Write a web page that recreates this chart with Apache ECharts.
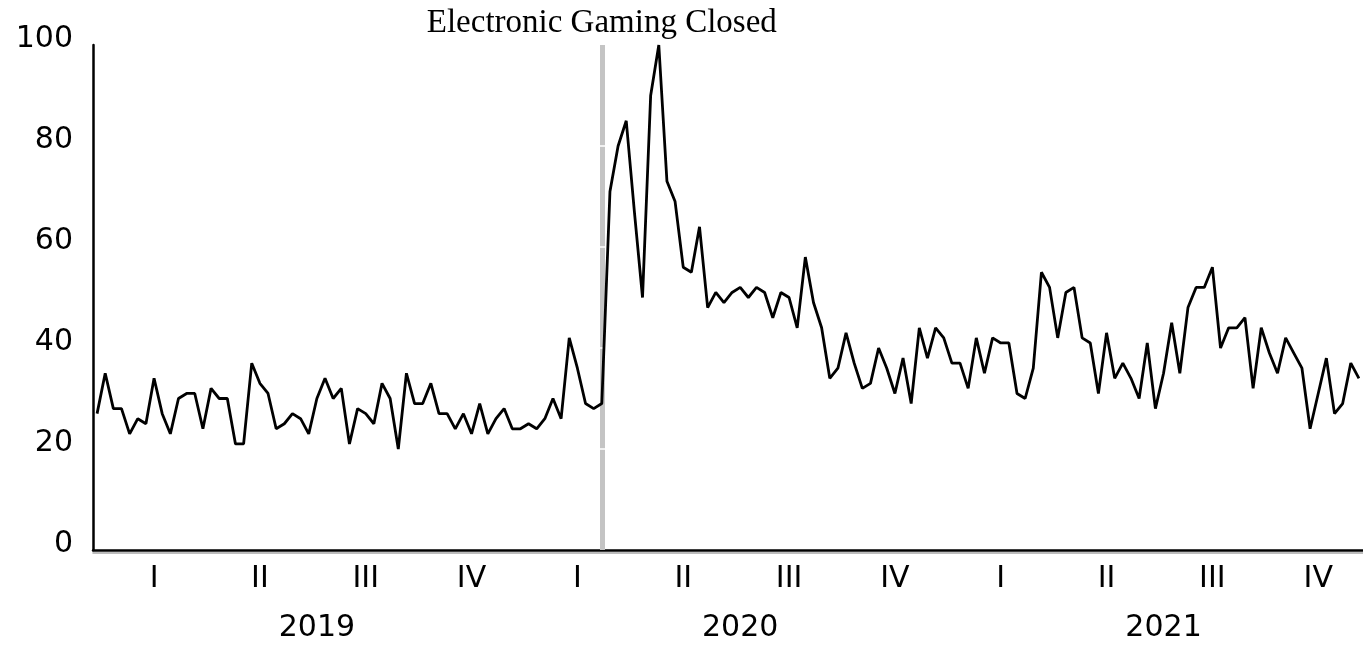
<!DOCTYPE html>
<html>
<head>
<meta charset="utf-8">
<script src="https://cdn.jsdelivr.net/npm/echarts@6/dist/echarts.min.js"></script>
<style>
  html, body { margin: 0; padding: 0; background: #fff; }
  #chart { width: 1363px; height: 646px; }
</style>
</head>
<body>
<div id="chart"></div>
<script>
// weekly index, 52 weeks per year
const years = ['2019', '2020', '2021'];
const quarters = ['I', 'II', 'III', 'IV'];
const weeks = [];
years.forEach(y => { for (let w = 1; w <= 52; w++) weeks.push(y + '-W' + w); });

const searches = [
  27, 35, 28, 28, 23, 26, 25, 34, 27, 23, 30, 31, 31, 24, 32, 30, 30, 21, 21, 37,
  33, 31, 24, 25, 27, 26, 23, 30, 34, 30, 32, 21, 28, 27, 25, 33, 30, 20, 35, 29,
  29, 33, 27, 27, 24, 27, 23, 29, 23, 26, 28, 24, 24, 25, 24, 26, 30, 26, 42, 36,
  29, 28, 29, 71, 80, 85, 67, 50, 90, 100, 73, 69, 56, 55, 64, 48, 51, 49, 51, 52,
  50, 52, 51, 46, 51, 50, 44, 58, 49, 44, 34, 36, 43, 37, 32, 33, 40, 36, 31, 38,
  29, 44, 38, 44, 42, 37, 37, 32, 42, 35, 42, 41, 41, 31, 30, 36, 55, 52, 42, 51,
  52, 42, 41, 31, 43, 34, 37, 34, 30, 41, 28, 35, 45, 35, 48, 52, 52, 56, 40, 44,
  44, 46, 32, 44, 39, 35, 42, 39, 36, 24, 31, 38, 27, 29, 37, 34
];

// week when electronic gaming closed
const closedWeek = 62;
const closedLabel = 'Electronic Gaming Closed';
const yTicks = [0, 20, 40, 60, 80, 100];

// grey marker, broken where the (white) gridlines would cross it
const markerSegments = [];
for (let k = 0; k < yTicks.length - 1; k++) {
  const last = k === yTicks.length - 2;
  const start = { coord: [weeks[closedWeek], yTicks[k] + (k === 0 ? 0 : 0.15)] };
  if (last) {
    start.label = {
      show: true, position: 'end', formatter: closedLabel, distance: 5,
      color: '#000', fontSize: 33, fontFamily: 'Liberation Serif'
    };
  }
  markerSegments.push([start, { coord: [weeks[closedWeek], yTicks[k + 1] - (last ? 0 : 0.15)] }]);
}

const labelFont = { color: '#000', fontSize: 30, fontFamily: 'DejaVu Sans' };

const myChart = echarts.init(document.getElementById('chart'));
const option = {
  animation: false,
  backgroundColor: '#fff',
  grid: { left: 93, right: 0, top: 45, bottom: 96 },
  xAxis: [
    {
      type: 'category',
      data: weeks,
      boundaryGap: true,
      axisLine: { lineStyle: { color: '#000', width: 2.5 } },
      axisTick: { show: false },
      axisLabel: Object.assign({
        interval: (i) => i % 13 === 7,
        formatter: (v, i) => quarters[Math.floor(i / 13) % 4],
        margin: 14
      }, labelFont)
    },
    {
      // year row; its line gives the light shadow under the axis
      type: 'category',
      data: weeks,
      position: 'bottom',
      offset: 2.5,
      boundaryGap: true,
      axisLine: { show: true, lineStyle: { color: '#a6a6a6', width: 1.5 } },
      axisTick: { show: false },
      axisLabel: Object.assign({
        interval: (i) => i % 52 === 27,
        formatter: (v, i) => years[Math.floor(i / 52)],
        margin: 61
      }, labelFont)
    }
  ],
  yAxis: {
    type: 'value',
    min: 0,
    max: 100,
    interval: 20,
    axisLine: { show: true, lineStyle: { color: '#000', width: 2.5 } },
    axisTick: { show: false },
    splitLine: { show: false },
    axisLabel: Object.assign({ margin: 20, verticalAlign: 'bottom', lineHeight: 12 }, labelFont)
  },
  series: [
    {
      // marker only, kept under the search line
      type: 'line',
      data: [],
      z: 1,
      markLine: {
        z: 1,
        silent: true,
        symbol: ['none', 'none'],
        lineStyle: { color: '#c4c4c4', width: 5, type: 'solid' },
        label: { show: false },
        data: markerSegments
      }
    },
    {
      type: 'line',
      data: searches,
      symbol: 'none',
      lineStyle: { color: '#000', width: 2.8 },
      z: 3
    }
  ]
};
myChart.setOption(option);
</script>
</body>
</html>
